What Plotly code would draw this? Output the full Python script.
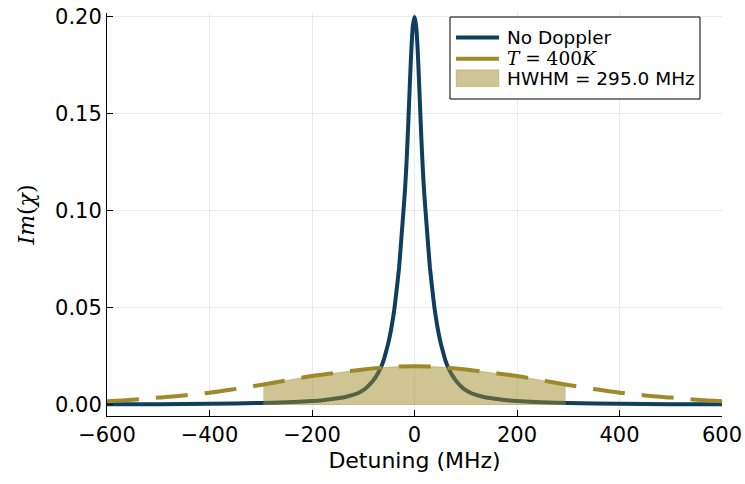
import plotly.graph_objects as go

# Detuning (MHz) and Im(chi) read for the natural (no Doppler) line, positive half
det_nat_pos = [0, 3, 6, 9, 12, 15, 18, 21.5, 25, 30, 35, 39, 43, 47, 51, 55, 60, 64, 70, 75,
               80, 85, 92, 100, 112, 125, 137, 150, 175, 200, 250, 300, 400, 500, 600]
im_nat_pos = [0.2000, 0.1960, 0.1840, 0.1660, 0.1460, 0.1280, 0.1130, 0.1000, 0.0880,
              0.0710, 0.0590, 0.0500, 0.0430, 0.0370, 0.0320, 0.0280, 0.0232, 0.0203,
              0.0170, 0.0147, 0.0128, 0.0112, 0.0093, 0.0076, 0.0059, 0.0048, 0.0040,
              0.0034, 0.0026, 0.0020, 0.0014, 0.0010, 0.0006, 0.0004, 0.0003]
# Negative half
det_nat_neg = [-600, -500, -400, -300, -250, -200, -175, -150, -137, -125, -112, -100, -92,
               -85, -80, -75, -70, -64, -60, -55, -51, -47, -43, -39, -35, -30, -25, -21.5,
               -18, -15, -12, -9, -6, -3]
im_nat_neg = [0.0003, 0.0004, 0.0006, 0.0010, 0.0014, 0.0020, 0.0026, 0.0034, 0.0040,
              0.0048, 0.0059, 0.0076, 0.0093, 0.0112, 0.0128, 0.0147, 0.0170, 0.0203,
              0.0232, 0.0280, 0.0320, 0.0370, 0.0430, 0.0500, 0.0590, 0.0710, 0.0880,
              0.1000, 0.1130, 0.1280, 0.1460, 0.1660, 0.1840, 0.1960]

# Doppler-broadened profile at T = 400 K
det_dop = [-600, -550, -500, -450, -400, -350, -300, -250, -200, -150, -100, -50, 0,
           50, 100, 150, 200, 250, 300, 350, 400, 450, 500, 550, 600]
im_dop = [0.0019, 0.0027, 0.0038, 0.0049, 0.0063, 0.0082, 0.0103, 0.0126, 0.0149, 0.0166,
          0.0183, 0.0195, 0.0200,
          0.0195, 0.0183, 0.0166, 0.0149, 0.0126, 0.0103, 0.0082, 0.0063, 0.0049, 0.0038,
          0.0027, 0.0019]

# Shaded band inside the half width at half maximum
det_hwhm = [-295, -250, -200, -150, -100, -50, 0, 50, 100, 150, 200, 250, 295]
im_hwhm = [0.0105, 0.0126, 0.0149, 0.0166, 0.0183, 0.0195, 0.0200, 0.0195, 0.0183, 0.0166,
           0.0149, 0.0126, 0.0105]
hwhm_mhz = 295.0
temp_k = 400

x_ticks = [-600, -400, -200, 0, 200, 400, 600]
y_ticks = [0.00, 0.05, 0.10, 0.15, 0.20]

BLUE = "#0f3e5e"
GOLD = "#9e8a2a"
FILL = "rgba(158,138,42,0.5)"
FONT = "DejaVu Sans"
SERIF = "DejaVu Serif"

labels = [
    "No Doppler",
    f"<span style='font-family:{SERIF}'><i>T</i> = {temp_k}<i>K</i></span>",
    f"HWHM = {hwhm_mhz:.1f} MHz",
]

fig = go.Figure()
fig.add_trace(go.Scatter(
    x=det_nat_neg + det_nat_pos, y=im_nat_neg + im_nat_pos, mode="lines", name=labels[0],
    line=dict(color=BLUE, width=4, shape="spline", smoothing=0.5),
))
fig.add_trace(go.Scatter(
    x=det_dop, y=im_dop, mode="lines", name=labels[1],
    line=dict(color=GOLD, width=4, dash="32px,17px", shape="spline"),
))
fig.add_trace(go.Scatter(
    x=det_hwhm, y=im_hwhm, mode="lines", fill="tozeroy", name=labels[2],
    line=dict(color="rgba(158,138,42,0.35)", width=1, shape="spline"),
    fillcolor=FILL,
))

# Boxed legend in paper coordinates
box = dict(x0=0.5577, x1=0.9642, y0=0.7866, y1=0.990)
rows = [0.9389, 0.8866, 0.8380]
sx0, sx1, tx = 0.5675, 0.6374, 0.6472
shapes = [dict(type="rect", xref="paper", yref="paper", **box,
               line=dict(color="black", width=1), fillcolor="white", layer="above")]
shapes.append(dict(type="line", xref="paper", yref="paper", x0=sx0, x1=sx1,
                   y0=rows[0], y1=rows[0], line=dict(color=BLUE, width=4)))
shapes.append(dict(type="line", xref="paper", yref="paper", x0=sx0, x1=sx1,
                   y0=rows[1], y1=rows[1], line=dict(color=GOLD, width=4)))
shapes.append(dict(type="rect", xref="paper", yref="paper", x0=sx0, x1=sx1,
                   y0=rows[2] - 0.021, y1=rows[2] + 0.021,
                   line=dict(color="rgba(158,138,42,0.25)", width=1), fillcolor=FILL))
annotations = [dict(xref="paper", yref="paper", x=tx, y=r, text=t, showarrow=False,
                    xanchor="left", yanchor="middle",
                    font=dict(family=FONT, size=18.5, color="black"))
               for r, t in zip(rows, labels)]

axis_common = dict(
    showgrid=True, gridcolor="rgba(0,0,0,0.08)", gridwidth=1,
    zeroline=False, showline=True, linecolor="black", linewidth=1,
    ticks="inside", ticklen=6, tickcolor="black",
    tickfont=dict(family=FONT, size=21, color="black"),
    mirror=False, automargin=False,
)

fig.update_layout(
    width=745, height=484,
    margin=dict(l=107, r=23, t=13, b=68),
    paper_bgcolor="white", plot_bgcolor="white",
    showlegend=False,
    shapes=shapes, annotations=annotations,
    xaxis=dict(
        range=[-600, 600], tickvals=x_ticks,
        ticktext=[str(v).replace("-", "\u2212") for v in x_ticks],
        title=dict(text="Detuning (MHz)", font=dict(family=FONT, size=22, color="black"),
                   standoff=6),
        **axis_common,
    ),
    yaxis=dict(
        range=[-0.0057, 0.202], tickvals=y_ticks,
        ticktext=[f"{v:.2f}" for v in y_ticks],
        title=dict(text="<i>Im</i>(<i>\u03c7</i>)",
                   font=dict(family=SERIF, size=22, color="black"), standoff=14),
        **axis_common,
    ),
)

fig.write_html("out.html")
